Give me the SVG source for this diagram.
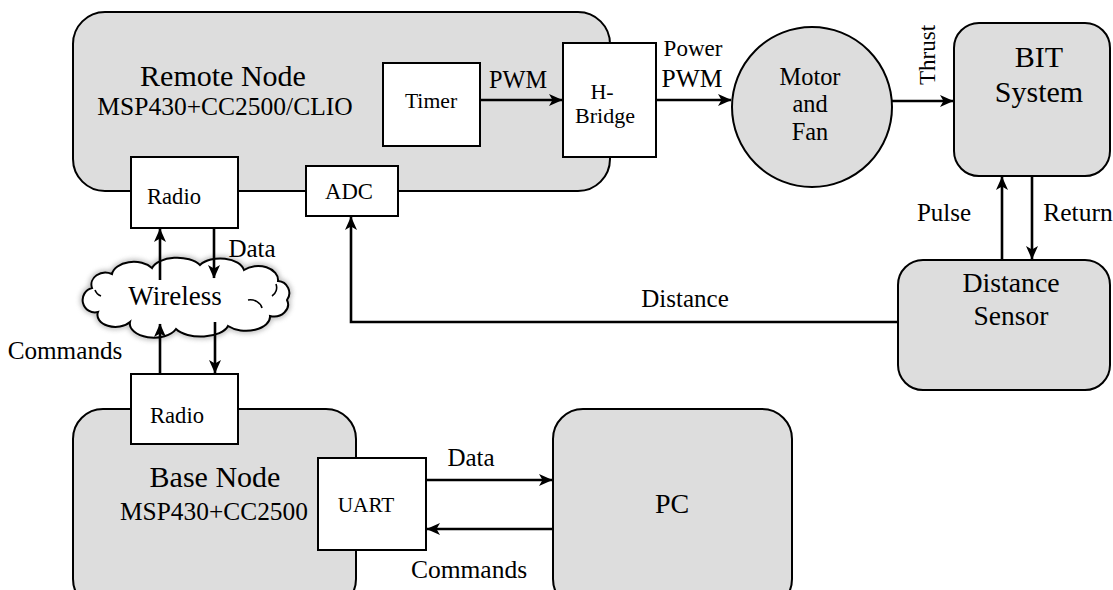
<svg xmlns="http://www.w3.org/2000/svg" width="1113" height="590" viewBox="0 0 1113 590" font-family="'Liberation Serif', serif">
  <style>
    .blk { fill: #dddddd; stroke: #000; stroke-width: 2; }
    .box { fill: #ffffff; stroke: #000; stroke-width: 2; }
    .wire { fill: none; stroke: #000; stroke-width: 2.6; }
    text { font-family: 'Liberation Serif', serif; fill: #000; text-anchor: middle; }
  </style>
  <defs>
    <marker id="arrow" markerUnits="userSpaceOnUse" markerWidth="15" markerHeight="13" refX="13" refY="6" orient="auto">
      <path d="M0,0 L13.5,6 L0,12 L3.5,6 Z" fill="#000"/>
    </marker>
    <filter id="haze" x="-10%" y="-20%" width="120%" height="140%">
      <feGaussianBlur stdDeviation="2.5"/>
    </filter>
  </defs>

  <!-- Remote node with its on-board blocks -->
  <g id="remote-node">
    <rect class="blk" x="73" y="12" width="537" height="179" rx="32" ry="32"/>
    <text x="223" y="86" font-size="30">Remote Node</text>
    <text x="225" y="115" font-size="25.5">MSP430+CC2500/CLIO</text>
  </g>
  <g id="timer">
    <rect class="box" x="383" y="63" width="97" height="83"/>
    <text x="431" y="108" font-size="21.7">Timer</text>
  </g>
  <g id="h-bridge">
    <rect class="box" x="563" y="43" width="93" height="114"/>
    <text x="602" y="99" font-size="22">H-</text>
    <text x="605" y="123" font-size="22">Bridge</text>
  </g>
  <g id="remote-radio">
    <rect class="box" x="131" y="157" width="107" height="71"/>
    <text x="174" y="204" font-size="22.6">Radio</text>
  </g>
  <g id="adc">
    <rect class="box" x="306" y="166" width="92" height="50"/>
    <text x="349" y="199" font-size="22.7">ADC</text>
  </g>

  <!-- Actuator and test rig -->
  <g id="motor-fan">
    <circle class="blk" cx="812" cy="107" r="80"/>
    <text x="810" y="85" font-size="24.4">Motor</text>
    <text x="810" y="112" font-size="24.4">and</text>
    <text x="810" y="140" font-size="24.4">Fan</text>
  </g>
  <g id="bit-system">
    <rect class="blk" x="954" y="23" width="156" height="153" rx="25" ry="25"/>
    <text x="1039" y="67" font-size="30">BIT</text>
    <text x="1039" y="102" font-size="30">System</text>
  </g>
  <g id="distance-sensor">
    <rect class="blk" x="898" y="260" width="212" height="130" rx="25" ry="25"/>
    <text x="1011" y="292" font-size="27.8">Distance</text>
    <text x="1011" y="325" font-size="27.5">Sensor</text>
  </g>

  <!-- Wireless link -->
  <g id="wireless">
    <path d="M92,288 A14,12 0 0 1 112,274 A22,14 0 0 1 152,268 A26,14 0 0 1 200,265 A24,14 0 0 1 244,270 A20,14 0 0 1 278,281 A12,12 0 0 1 287,300 A14,12 0 0 1 270,316 A24,14 0 0 1 228,326 A28,14 0 0 1 176,329 A24,14 0 0 1 130,322 A18,12 0 0 1 98,312 A12,12 0 0 1 92,288 Z" fill="none" stroke="#888" stroke-width="5" filter="url(#haze)" opacity="0.6"/>
    <path d="M92,288 A14,12 0 0 1 112,274 A22,14 0 0 1 152,268 A26,14 0 0 1 200,265 A24,14 0 0 1 244,270 A20,14 0 0 1 278,281 A12,12 0 0 1 287,300 A14,12 0 0 1 270,316 A24,14 0 0 1 228,326 A28,14 0 0 1 176,329 A24,14 0 0 1 130,322 A18,12 0 0 1 98,312 A12,12 0 0 1 92,288 Z" fill="#fff" stroke="#000" stroke-width="2"/>
    <path d="M95,290 A10,10 0 0 0 101,296 M248,300 A12,10 0 0 1 262,308 M276,284 A10,10 0 0 1 272,296" fill="none" stroke="#000" stroke-width="1.6"/>
    <text x="175" y="305" font-size="27">Wireless</text>
  </g>

  <!-- Base station and host -->
  <g id="base-node">
    <rect class="blk" x="73" y="409" width="283" height="200" rx="30" ry="30"/>
    <text x="215" y="487" font-size="30">Base Node</text>
    <text x="214" y="520" font-size="25.4">MSP430+CC2500</text>
  </g>
  <g id="base-radio">
    <rect class="box" x="131" y="374" width="107" height="70"/>
    <text x="177" y="423" font-size="22.6">Radio</text>
  </g>
  <g id="uart">
    <rect class="box" x="318" y="458" width="108" height="92"/>
    <text x="366" y="512" font-size="21.3">UART</text>
  </g>
  <g id="pc">
    <rect class="blk" x="553" y="409" width="239" height="200" rx="30" ry="30"/>
    <text x="672" y="513" font-size="28">PC</text>
  </g>

  <!-- Signal paths -->
  <g id="connectors">
    <path class="wire" d="M480,100 H562" marker-end="url(#arrow)"/>
    <path class="wire" d="M656,100 H731" marker-end="url(#arrow)"/>
    <path class="wire" d="M892,101 H953" marker-end="url(#arrow)"/>
    <path class="wire" d="M1002,260 V177" marker-end="url(#arrow)"/>
    <path class="wire" d="M1032,176 V259" marker-end="url(#arrow)"/>
    <path class="wire" d="M898,322 H351 V217" marker-end="url(#arrow)"/>
    <path class="wire" d="M160,280 V229" marker-end="url(#arrow)"/>
    <path class="wire" d="M214,228 V278" marker-end="url(#arrow)"/>
    <path class="wire" d="M160,374 V324" marker-end="url(#arrow)"/>
    <path class="wire" d="M215,322 V373" marker-end="url(#arrow)"/>
    <path class="wire" d="M426,480 H552" marker-end="url(#arrow)"/>
    <path class="wire" d="M553,529 H427" marker-end="url(#arrow)"/>

    <text x="518" y="88" font-size="24.3">PWM</text>
    <text x="693" y="56" font-size="23">Power</text>
    <text x="692" y="87" font-size="25.5">PWM</text>
    <text transform="translate(935,55) rotate(-90)" x="0" y="0" font-size="23">Thrust</text>
    <text x="944" y="221" font-size="25">Pulse</text>
    <text x="1078" y="221" font-size="25.5">Return</text>
    <text x="685" y="307" font-size="25">Distance</text>
    <text x="252" y="257" font-size="25">Data</text>
    <text x="65" y="359" font-size="25.2">Commands</text>
    <text x="471" y="466" font-size="25">Data</text>
    <text x="469" y="578" font-size="25.5">Commands</text>
  </g>
</svg>
